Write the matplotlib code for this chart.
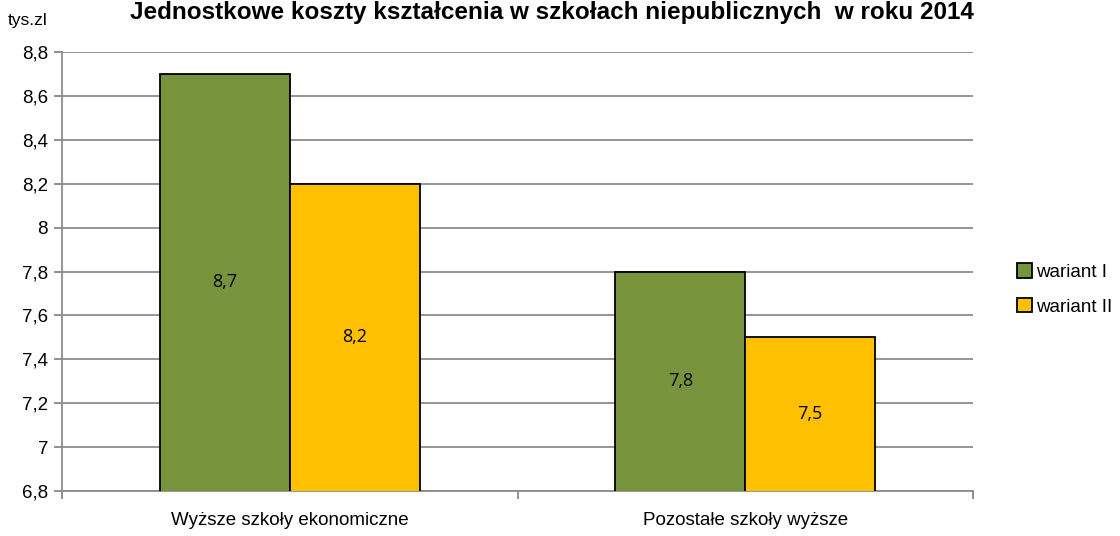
import numpy as np
import matplotlib
matplotlib.use("Agg")
from matplotlib import pyplot as plt
from matplotlib.ticker import FuncFormatter

categories = ["Wyższe szkoły ekonomiczne", "Pozostałe szkoły wyższe"]
wariant_1 = [8.7, 7.8]
wariant_2 = [8.2, 7.5]
series_names = ["wariant I", "wariant II"]
y_ticks = [6.8, 7.0, 7.2, 7.4, 7.6, 7.8, 8.0, 8.2, 8.4, 8.6, 8.8]

plt.rcParams['font.family'] = ['Liberation Sans', 'DejaVu Sans']

fig = plt.figure(figsize=(11.2, 5.36), dpi=100)
ax = fig.add_axes([62 / 1120, 45 / 536, 911 / 1120, 439 / 536])

x = np.arange(len(categories))
w = 0.285
green = "#77933c"
yellow = "#ffc000"
b1 = ax.bar(x - w / 2, wariant_1, w, color=green, edgecolor="black",
            linewidth=1.3, label=series_names[0], zorder=3)
b2 = ax.bar(x + w / 2, wariant_2, w, color=yellow, edgecolor="black",
            linewidth=1.3, label=series_names[1], zorder=3)

ax.set_ylim(6.8, 8.8)
ax.set_xlim(-0.5, 1.5)
ax.set_yticks(y_ticks)
ax.yaxis.set_major_formatter(FuncFormatter(lambda v, p: ("%g" % round(v, 1)).replace(".", ",")))
ax.set_xticks(x)
ax.set_xticklabels(categories, fontsize=13.5)
ax.set_xticks([-0.5, 0.5, 1.5], minor=True)
ax.tick_params(axis="x", which="major", length=0, pad=15)
ax.tick_params(axis="x", which="minor", length=6, color="#888888", width=1.3, direction="out")
ax.tick_params(axis="y", length=6, color="#888888", width=1.3, labelsize=13.5, pad=4)

ax.grid(axis="y", color="#8c8c8c", linewidth=1.3, zorder=0)
for s in ["top", "right"]:
    ax.spines[s].set_visible(False)
ax.spines["left"].set_color("#8c8c8c")
ax.spines["left"].set_linewidth(1.3)
ax.spines["bottom"].set_color("#8c8c8c")
ax.spines["bottom"].set_linewidth(1.3)

for bars, vals in [(b1, wariant_1), (b2, wariant_2)]:
    for rect, v in zip(bars, vals):
        ax.text(rect.get_x() + rect.get_width() / 2, (6.8 + v) / 2,
                ("%g" % v).replace(".", ","), ha="center", va="center",
                fontsize=13, family=["Open Sans", "DejaVu Sans"], zorder=4)

fig.text(28 / 1120, 1 - 20 / 536, "tys.zl", ha="center", va="center", fontsize=12.5)
fig.text(552 / 1120, 1 - 1 / 536,
         "Jednostkowe koszty kształcenia w szkołach niepublicznych  w roku 2014",
         ha="center", va="top", fontsize=17.5, fontweight="bold")

leg = fig.legend(loc="upper left", bbox_to_anchor=(1008 / 1120, 1 - 254 / 536),
                 frameon=False, fontsize=13.5, handlelength=0.8, handleheight=0.8,
                 handletextpad=0.2, labelspacing=0.9, borderpad=0)
for h in leg.legend_handles:
    h.set_linewidth(1.3)

fig.savefig("out.png", dpi=100)
